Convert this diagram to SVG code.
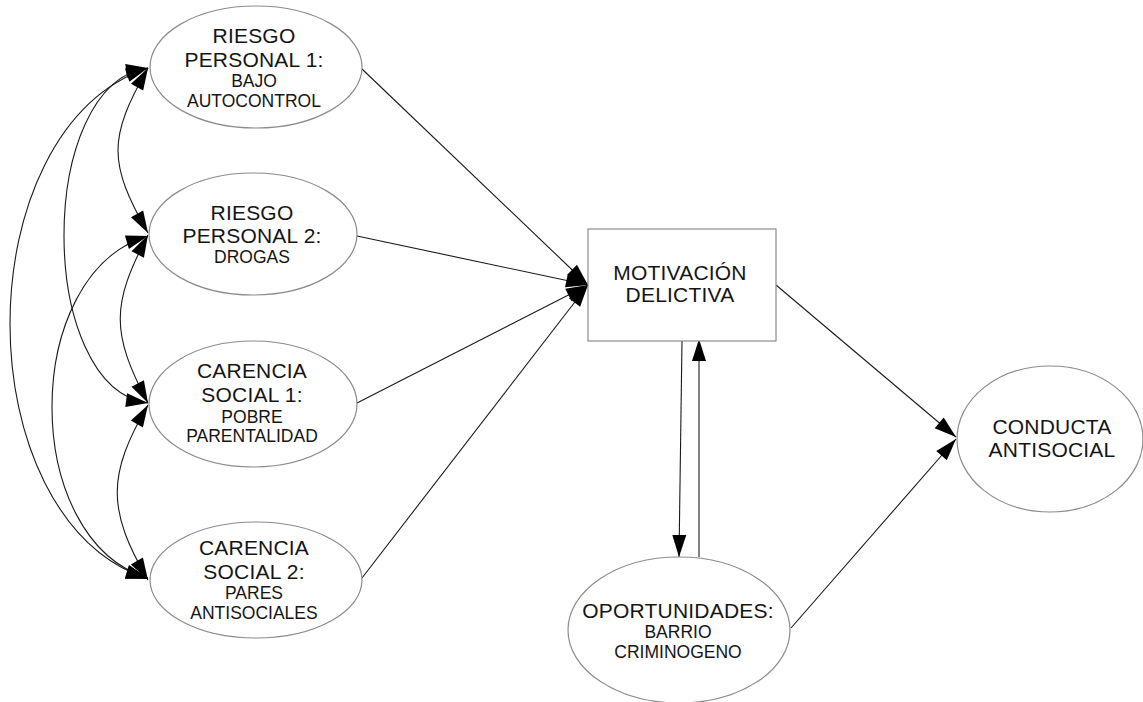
<svg xmlns="http://www.w3.org/2000/svg" width="1143" height="702" viewBox="0 0 1143 702">
<style>
.n{fill:#fff;stroke:#8c8c8c;stroke-width:1.2}
.t{font-family:"Liberation Sans",Arial,sans-serif;fill:#151515;text-anchor:middle}
.b{font-size:21px;letter-spacing:0.2px}
.s{font-size:17.5px}
.c{fill:none;stroke:#1a1a1a;stroke-width:1.1}
.a{marker-end:url(#ah)}
.d{marker-start:url(#as);marker-end:url(#ah)}
</style>
<defs>
<marker id="ah" markerUnits="userSpaceOnUse" markerWidth="22" markerHeight="14" refX="22" refY="7" orient="auto" overflow="visible">
<path d="M0,0 L22,7 L0,14 Z" fill="#000"/>
</marker>
<marker id="as" markerUnits="userSpaceOnUse" markerWidth="22" markerHeight="14" refX="22" refY="7" orient="auto-start-reverse" overflow="visible">
<path d="M0,0 L22,7 L0,14 Z" fill="#000"/>
</marker>
</defs>
<rect width="1143" height="702" fill="#fff"/>
<g id="connectors">
<path class="c a" d="M362,69 L588,285"/>
<path class="c a" d="M357,236 L588,285"/>
<path class="c a" d="M357,403 L588,285"/>
<path class="c a" d="M362,578 L588,285"/>
<path class="c a" d="M776,285 L956,437"/>
<path class="c a" d="M791,628 L956,439"/>
<path class="c a" d="M682,341 L679,557"/>
<path class="c a" d="M699,557 L699,339"/>
<path class="c d" d="M148,68 C108,138 108,163 148,233"/>
<path class="c d" d="M148,68 C36,83 36,388 148,403"/>
<path class="c d" d="M148,68 C-36,130 -36,518 148,579"/>
<path class="c d" d="M148,235 C111,305 111,333 148,403"/>
<path class="c d" d="M148,236 C20,274 20,540 148,578"/>
<path class="c d" d="M148,405 C107,475 107,510 148,580"/>
</g>
<g id="n1"><ellipse class="n" cx="256" cy="67" rx="106" ry="61"/>
<text class="t b" x="254" y="42.7">RIESGO</text><text class="t b" x="254" y="66.7">PERSONAL 1:</text>
<text class="t s" x="254" y="87.3">BAJO</text><text class="t s" x="254" y="106.7">AUTOCONTROL</text></g>
<g id="n2"><ellipse class="n" cx="253" cy="234" rx="104" ry="61"/>
<text class="t b" x="252" y="220">RIESGO</text><text class="t b" x="252" y="243">PERSONAL 2:</text>
<text class="t s" x="252" y="263.3">DROGAS</text></g>
<g id="n3"><ellipse class="n" cx="253" cy="404" rx="104" ry="63"/>
<text class="t b" x="252" y="378.3">CARENCIA</text><text class="t b" x="252" y="401.7">SOCIAL 1:</text>
<text class="t s" x="252" y="422.7">POBRE</text><text class="t s" x="252" y="442.3">PARENTALIDAD</text></g>
<g id="n4"><ellipse class="n" cx="256" cy="580" rx="106" ry="58"/>
<text class="t b" x="254" y="555">CARENCIA</text><text class="t b" x="254" y="579">SOCIAL 2:</text>
<text class="t s" x="254" y="599.3">PARES</text><text class="t s" x="254" y="619">ANTISOCIALES</text></g>
<g id="n5"><rect class="n" x="588" y="229" width="188" height="112" stroke="#999"/>
<text class="t b" x="680" y="280">MOTIVACIÓN</text><text class="t b" x="680" y="301.7">DELICTIVA</text></g>
<g id="n6"><ellipse class="n" cx="679" cy="630" rx="111" ry="73"/>
<text class="t b" x="678" y="618.3">OPORTUNIDADES:</text>
<text class="t s" x="678" y="638.3">BARRIO</text><text class="t s" x="678" y="657.7">CRIMINOGENO</text></g>
<g id="n7"><ellipse class="n" cx="1050" cy="439" rx="93" ry="73"/>
<text class="t b" x="1052" y="434.3">CONDUCTA</text><text class="t b" x="1052" y="456.7">ANTISOCIAL</text></g>
</svg>
